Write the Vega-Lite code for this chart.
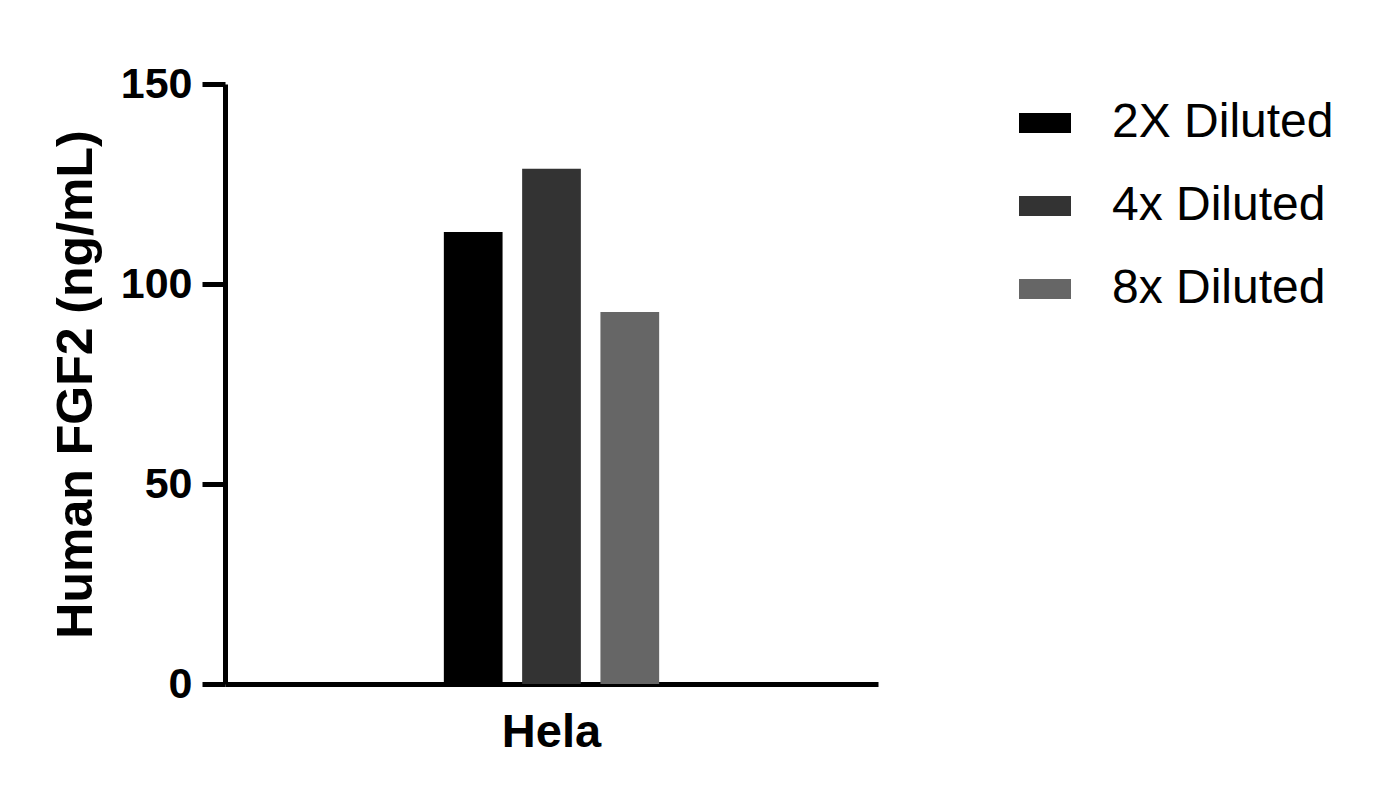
{
  "$schema": "https://vega.github.io/schema/vega-lite/v6.json",
  "autosize": "none",
  "width": 653,
  "height": 600,
  "padding": {"left": 225, "top": 84, "right": 502, "bottom": 120},
  "background": "white",
  "data": {
    "values": [
      {"cell": "Hela", "dilution": "2X Diluted", "value": 113},
      {"cell": "Hela", "dilution": "4x Diluted", "value": 128.8},
      {"cell": "Hela", "dilution": "8x Diluted", "value": 93}
    ]
  },
  "mark": {"type": "bar", "cornerRadius": 0},
  "encoding": {
    "x": {
      "field": "cell",
      "type": "nominal",
      "scale": {"paddingInner": 0, "paddingOuter": 0.89},
      "axis": {
        "title": null,
        "labelAngle": 0,
        "labelFont": "Liberation Sans",
        "labelFontWeight": "bold",
        "labelFontSize": 47,
        "labelColor": "black",
        "labelPadding": 25,
        "ticks": false,
        "domainColor": "black",
        "domainWidth": 5
      }
    },
    "xOffset": {
      "field": "dilution",
      "type": "nominal",
      "scale": {"paddingInner": 0.25, "paddingOuter": 0.125}
    },
    "y": {
      "field": "value",
      "type": "quantitative",
      "scale": {"domain": [0, 150], "nice": false},
      "axis": {
        "title": "Human FGF2 (ng/mL)",
        "titleFont": "Liberation Sans",
        "titleFontWeight": "bold",
        "titleFontSize": 50,
        "titleColor": "black",
        "titlePadding": 19,
        "values": [0, 50, 100, 150],
        "grid": false,
        "labelFont": "Liberation Sans",
        "labelFontWeight": "bold",
        "labelFontSize": 43,
        "labelColor": "black",
        "labelPadding": 10,
        "tickSize": 23,
        "tickWidth": 5,
        "tickColor": "black",
        "domainColor": "black",
        "domainWidth": 5
      }
    },
    "color": {
      "field": "dilution",
      "type": "nominal",
      "scale": {
        "domain": ["2X Diluted", "4x Diluted", "8x Diluted"],
        "range": ["#000000", "#333333", "#666666"]
      },
      "legend": {
        "title": null,
        "orient": "none",
        "legendX": 794,
        "legendY": 13,
        "symbolType": "M-1,-0.385H1V0.385H-1Z",
        "symbolSize": 2704,
        "symbolStrokeWidth": 0,
        "labelFont": "Liberation Sans",
        "labelFontSize": 48,
        "labelColor": "black",
        "labelOffset": 41,
        "rowPadding": 33,
        "labelLimit": 400
      }
    }
  },
  "config": {"view": {"stroke": null}}
}
